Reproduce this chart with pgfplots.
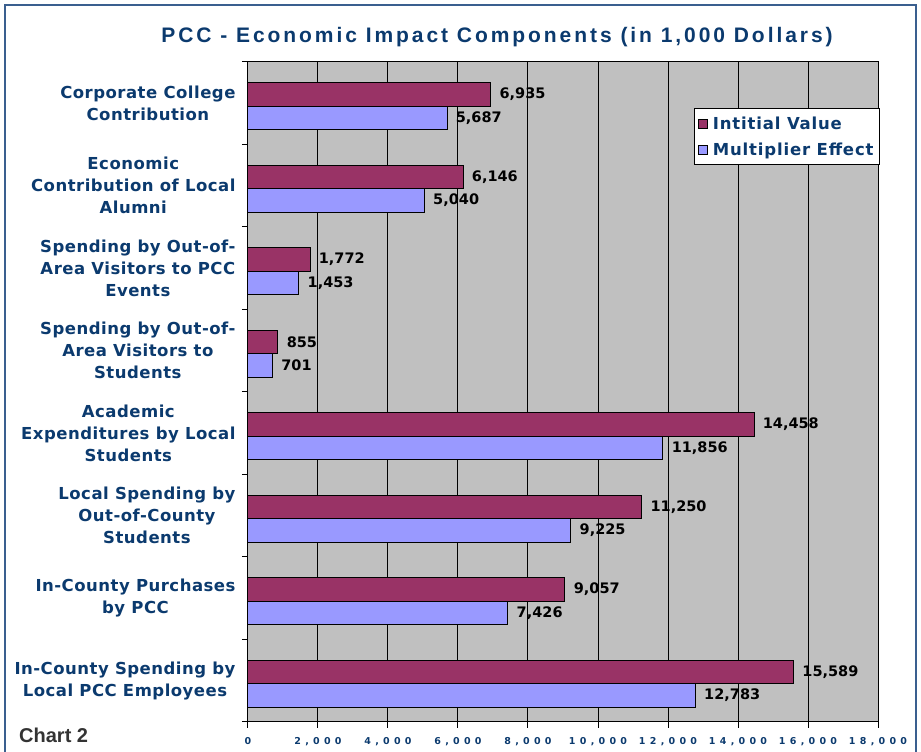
\documentclass[border=0pt]{standalone}
\usepackage{pgfplots}
\pgfplotsset{compat=1.18}
\usepackage{pgfplotstable}
\usepackage{fontspec}
\setmainfont{Liberation Sans}
\newfontfamily\dvs{DejaVu Sans}
\newfontfamily\labfont[LetterSpace=3]{DejaVu Sans}
\newfontfamily\legfont[LetterSpace=5]{DejaVu Sans}
\newfontfamily\tickfont[LetterSpace=45]{DejaVu Sans}
\newfontfamily\titlefont[LetterSpace=14]{Liberation Sans}
\usetikzlibrary{calc}
\definecolor{navy}{HTML}{0B3A6E}
\definecolor{barred}{HTML}{993366}
\definecolor{barblue}{HTML}{9999FF}
\definecolor{plotgrey}{HTML}{C0C0C0}
\definecolor{frameblue}{HTML}{3A5F8F}
\pgfplotstableread{
y initial mult
0 15589 12783
1 9057 7426
2 11250 9225
3 14458 11856
4 855 701
5 1772 1453
6 6146 5040
7 6935 5687
}\data
\begin{document}
\begin{tikzpicture}
\begin{axis}[
  scale only axis,
  width=630pt, height=660pt,
  xbar,
  bar width=0.285,
  xmin=0, xmax=18000, ymin=-0.5, ymax=7.5,
  axis background/.style={fill=plotgrey},
  axis line style={black, line width=1pt},
  xmajorgrids,
  major grid style={black, line width=1pt},
  xtick={0,2000,...,18000},
  scaled x ticks=false,
  xtick pos=bottom, ytick pos=left,
  tick align=outside,
  major tick length=6pt,
  tick style={black, line width=1pt},
  x tick label style={font=\tickfont\bfseries\fontsize{9.5}{9.5}\selectfont, text=navy, /pgf/number format/1000 sep={,}, yshift=-6pt},
  /pgf/number format/assume math mode=true,
  ytick={-0.5,0.5,...,7.5},
  yticklabels={},
  extra y ticks={0,1,2,3,4,5,6,7},
  extra y tick labels={{In-County Spending by\\Local PCC Employees},{In-County Purchases\\by PCC},{Local Spending by\\Out-of-County\\Students},{Academic\\Expenditures by Local\\Students},{Spending by Out-of-\\Area Visitors to\\Students},{Spending by Out-of-\\Area Visitors to PCC\\Events},{Economic\\Contribution of Local\\Alumni},{Corporate College\\Contribution}},
  extra y tick style={major tick length=0pt, y tick label style={align=center, text=navy, font=\labfont\bfseries\fontsize{16.5}{22}\selectfont, xshift=-9pt}},
  point meta=x,
  nodes near coords={\pgfmathprintnumber[1000 sep={,}]{\pgfplotspointmeta}},
  every node near coord/.append style={font=\dvs\bfseries\fontsize{14.5}{14.5}\selectfont, text=black, anchor=west, xshift=5pt},
  legend style={at={(rel axis cs:1,1)}, anchor=north east, xshift=2pt, yshift=-46pt, draw=black, line width=1pt, fill=white, font=\legfont\bfseries\fontsize{16.5}{16.5}\selectfont, text=navy, row sep=8pt, inner xsep=4pt, inner ysep=6pt},
  legend cell align=left,
  clip=false,
]
\addplot[fill=barred, draw=black, line width=1pt, bar shift=0.105,
  legend image code/.code={\draw[fill=barred,draw=black,line width=0.8pt] (0pt,-4.5pt) rectangle (9pt,4.5pt);}]
  table[x=initial, y=y]{\data};
\addlegendentry{\hspace{3pt}Intitial Value}
\addplot[fill=barblue, draw=black, line width=1pt, bar shift=-0.18,
  legend image code/.code={\draw[fill=barblue,draw=black,line width=0.8pt] (0pt,-4.5pt) rectangle (9pt,4.5pt);}]
  table[x=mult, y=y]{\data};
\addlegendentry{\hspace{3pt}Multiplier Effect}
\end{axis}
\node[font=\titlefont\bfseries\fontsize{21}{22}\selectfont, text=navy, anchor=base] at ($(current axis.north west)+(249pt,19pt)$) {PCC - Economic Impact Components (in 1,000 Dollars)};
\node[font=\bfseries\fontsize{20}{20}\selectfont, text=black!80, anchor=base west, inner sep=0pt] at ($(current axis.south west)+(-229pt,-21pt)$) {Chart 2};
\draw[frameblue, line width=1.3pt] ($(current axis.south west)+(-243pt,-45pt)$) rectangle ($(current axis.north east)+(38pt,57pt)$);
\pgfresetboundingbox
\path[use as bounding box] ($(current axis.south west)+(-248pt,-30pt)$) rectangle ($(current axis.north east)+(43pt,62pt)$);
\end{tikzpicture}
\end{document}
